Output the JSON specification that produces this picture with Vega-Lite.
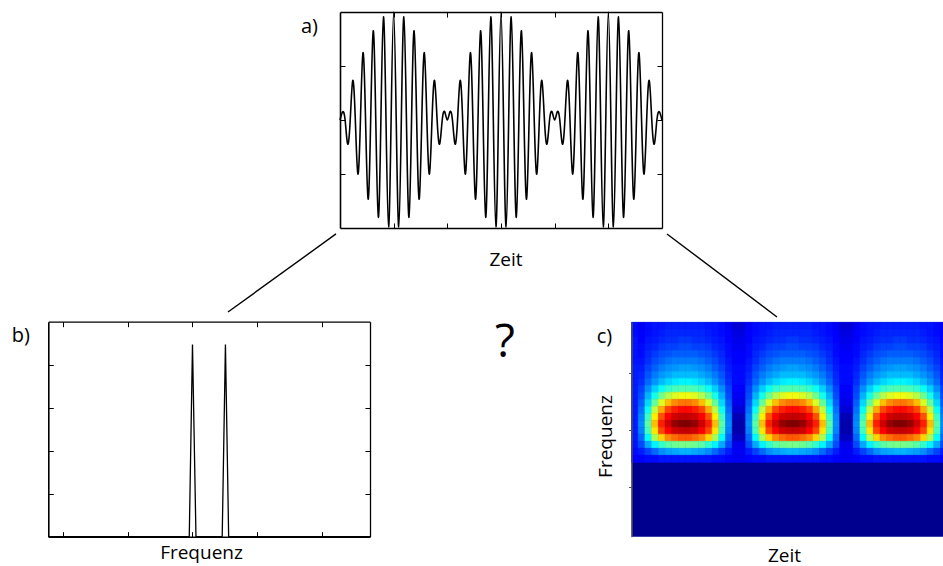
{
 "$schema": "https://vega.github.io/schema/vega-lite/v6.json",
 "width": 943,
 "height": 566,
 "autosize": "none",
 "padding": 0,
 "background": "#ffffff",
 "config": {
  "view": {"stroke": null},
  "font": "Open Sans",
  "axis": {"grid": false, "labels": false, "domainColor": "#000000", "tickColor": "#000000", "domainWidth": 1.3, "tickWidth": 1, "tickSize": -5, "titleFont": "Open Sans", "titleFontSize": 19, "titleFontWeight": "normal", "titleColor": "#000000", "titleBaseline": "alphabetic", "titleAlign": "center"}
 },
 "layer": [
  {
   "layer": [
    {
     "data": {"values": [{}]},
     "mark": {"type": "rect", "color": "#00008f"},
     "encoding": {
      "x": {"datum": 0, "type": "quantitative", "scale": {"domain": [0, 3], "range": [631.5, 954], "nice": false, "zero": false},
            "axis": {"orient": "bottom", "offset": -29.3, "values": [], "domain": false, "title": "Zeit", "titleX": 784, "titleY": 24.3}},
      "x2": {"datum": 3},
      "y": {"datum": 0.133, "type": "quantitative", "scale": {"domain": [0.133, 3.895], "range": [536.7, 322.3], "nice": false, "zero": false},
            "axis": {"orient": "left", "offset": -631.5, "values": [1, 2, 3], "domainColor": "#555555", "tickColor": "#555555", "tickSize": 3, "zindex": 1, "title": "Frequenz", "titleX": -20.3, "titleY": 436, "titleAngle": 270}},
      "y2": {"datum": 3.895}
     }
    },
    {
     "data": {"values": [{}]},
     "mark": {"type": "text", "align": "left", "baseline": "alphabetic", "fontSize": 20, "color": "#000000"},
     "encoding": {
      "x": {"datum": -0.3237, "type": "quantitative", "axis": null},
      "y": {"datum": 3.531, "type": "quantitative", "axis": null},
      "text": {"value": "c)"}
     }
    }
   ],
   "resolve": {"axis": {"x": "independent", "y": "independent"}}
  },
  {
   "data": {"values": [
{"t":0,"f":19,"v":12},{"t":1,"f":19,"v":10},{"t":2,"f":19,"v":12},{"t":3,"f":19,"v":13},{"t":4,"f":19,"v":13},{"t":5,"f":19,"v":14},{"t":6,"f":19,"v":14},{"t":7,"f":19,"v":14},{"t":8,"f":19,"v":14},{"t":9,"f":19,"v":14},{"t":10,"f":19,"v":14},{"t":11,"f":19,"v":13},{"t":12,"f":19,"v":13},{"t":13,"f":19,"v":12},{"t":14,"f":19,"v":10},{"t":15,"f":19,"v":7},{"t":16,"f":19,"v":7},{"t":17,"f":19,"v":10},{"t":18,"f":19,"v":12},{"t":19,"f":19,"v":13},{"t":20,"f":19,"v":13},{"t":21,"f":19,"v":14},{"t":22,"f":19,"v":14},{"t":23,"f":19,"v":14},{"t":24,"f":19,"v":14},{"t":25,"f":19,"v":14},{"t":26,"f":19,"v":14},{"t":27,"f":19,"v":13},{"t":28,"f":19,"v":13},{"t":29,"f":19,"v":12},{"t":30,"f":19,"v":10},{"t":31,"f":19,"v":7},{"t":32,"f":19,"v":7},{"t":33,"f":19,"v":10},{"t":34,"f":19,"v":12},{"t":35,"f":19,"v":13},{"t":36,"f":19,"v":13},{"t":37,"f":19,"v":14},{"t":38,"f":19,"v":14},{"t":39,"f":19,"v":14},{"t":40,"f":19,"v":14},{"t":41,"f":19,"v":14},{"t":42,"f":19,"v":14},{"t":43,"f":19,"v":13},{"t":44,"f":19,"v":13},{"t":45,"f":19,"v":12},{"t":46,"f":19,"v":10},{"t":47,"f":19,"v":7},
{"t":0,"f":18,"v":12},{"t":1,"f":18,"v":11},{"t":2,"f":18,"v":12},{"t":3,"f":18,"v":13},{"t":4,"f":18,"v":14},{"t":5,"f":18,"v":15},{"t":6,"f":18,"v":15},{"t":7,"f":18,"v":15},{"t":8,"f":18,"v":15},{"t":9,"f":18,"v":15},{"t":10,"f":18,"v":15},{"t":11,"f":18,"v":14},{"t":12,"f":18,"v":13},{"t":13,"f":18,"v":12},{"t":14,"f":18,"v":11},{"t":15,"f":18,"v":8},{"t":16,"f":18,"v":8},{"t":17,"f":18,"v":11},{"t":18,"f":18,"v":12},{"t":19,"f":18,"v":13},{"t":20,"f":18,"v":14},{"t":21,"f":18,"v":15},{"t":22,"f":18,"v":15},{"t":23,"f":18,"v":15},{"t":24,"f":18,"v":15},{"t":25,"f":18,"v":15},{"t":26,"f":18,"v":15},{"t":27,"f":18,"v":14},{"t":28,"f":18,"v":13},{"t":29,"f":18,"v":12},{"t":30,"f":18,"v":11},{"t":31,"f":18,"v":8},{"t":32,"f":18,"v":8},{"t":33,"f":18,"v":11},{"t":34,"f":18,"v":12},{"t":35,"f":18,"v":13},{"t":36,"f":18,"v":14},{"t":37,"f":18,"v":15},{"t":38,"f":18,"v":15},{"t":39,"f":18,"v":15},{"t":40,"f":18,"v":15},{"t":41,"f":18,"v":15},{"t":42,"f":18,"v":15},{"t":43,"f":18,"v":14},{"t":44,"f":18,"v":13},{"t":45,"f":18,"v":12},{"t":46,"f":18,"v":11},{"t":47,"f":18,"v":8},
{"t":0,"f":17,"v":13},{"t":1,"f":17,"v":11},{"t":2,"f":17,"v":13},{"t":3,"f":17,"v":14},{"t":4,"f":17,"v":15},{"t":5,"f":17,"v":16},{"t":6,"f":17,"v":16},{"t":7,"f":17,"v":17},{"t":8,"f":17,"v":17},{"t":9,"f":17,"v":16},{"t":10,"f":17,"v":16},{"t":11,"f":17,"v":15},{"t":12,"f":17,"v":14},{"t":13,"f":17,"v":13},{"t":14,"f":17,"v":11},{"t":15,"f":17,"v":9},{"t":16,"f":17,"v":9},{"t":17,"f":17,"v":11},{"t":18,"f":17,"v":13},{"t":19,"f":17,"v":14},{"t":20,"f":17,"v":15},{"t":21,"f":17,"v":16},{"t":22,"f":17,"v":16},{"t":23,"f":17,"v":17},{"t":24,"f":17,"v":17},{"t":25,"f":17,"v":16},{"t":26,"f":17,"v":16},{"t":27,"f":17,"v":15},{"t":28,"f":17,"v":14},{"t":29,"f":17,"v":13},{"t":30,"f":17,"v":11},{"t":31,"f":17,"v":9},{"t":32,"f":17,"v":9},{"t":33,"f":17,"v":11},{"t":34,"f":17,"v":13},{"t":35,"f":17,"v":14},{"t":36,"f":17,"v":15},{"t":37,"f":17,"v":16},{"t":38,"f":17,"v":16},{"t":39,"f":17,"v":17},{"t":40,"f":17,"v":17},{"t":41,"f":17,"v":16},{"t":42,"f":17,"v":16},{"t":43,"f":17,"v":15},{"t":44,"f":17,"v":14},{"t":45,"f":17,"v":13},{"t":46,"f":17,"v":11},{"t":47,"f":17,"v":9},
{"t":0,"f":16,"v":13},{"t":1,"f":16,"v":12},{"t":2,"f":16,"v":14},{"t":3,"f":16,"v":15},{"t":4,"f":16,"v":17},{"t":5,"f":16,"v":18},{"t":6,"f":16,"v":18},{"t":7,"f":16,"v":19},{"t":8,"f":16,"v":19},{"t":9,"f":16,"v":18},{"t":10,"f":16,"v":18},{"t":11,"f":16,"v":17},{"t":12,"f":16,"v":15},{"t":13,"f":16,"v":14},{"t":14,"f":16,"v":12},{"t":15,"f":16,"v":10},{"t":16,"f":16,"v":10},{"t":17,"f":16,"v":12},{"t":18,"f":16,"v":14},{"t":19,"f":16,"v":15},{"t":20,"f":16,"v":17},{"t":21,"f":16,"v":18},{"t":22,"f":16,"v":18},{"t":23,"f":16,"v":19},{"t":24,"f":16,"v":19},{"t":25,"f":16,"v":18},{"t":26,"f":16,"v":18},{"t":27,"f":16,"v":17},{"t":28,"f":16,"v":15},{"t":29,"f":16,"v":14},{"t":30,"f":16,"v":12},{"t":31,"f":16,"v":10},{"t":32,"f":16,"v":10},{"t":33,"f":16,"v":12},{"t":34,"f":16,"v":14},{"t":35,"f":16,"v":15},{"t":36,"f":16,"v":17},{"t":37,"f":16,"v":18},{"t":38,"f":16,"v":18},{"t":39,"f":16,"v":19},{"t":40,"f":16,"v":19},{"t":41,"f":16,"v":18},{"t":42,"f":16,"v":18},{"t":43,"f":16,"v":17},{"t":44,"f":16,"v":15},{"t":45,"f":16,"v":14},{"t":46,"f":16,"v":12},{"t":47,"f":16,"v":10},
{"t":0,"f":15,"v":13},{"t":1,"f":15,"v":12},{"t":2,"f":15,"v":15},{"t":3,"f":15,"v":17},{"t":4,"f":15,"v":19},{"t":5,"f":15,"v":20},{"t":6,"f":15,"v":21},{"t":7,"f":15,"v":21},{"t":8,"f":15,"v":21},{"t":9,"f":15,"v":21},{"t":10,"f":15,"v":20},{"t":11,"f":15,"v":19},{"t":12,"f":15,"v":17},{"t":13,"f":15,"v":15},{"t":14,"f":15,"v":12},{"t":15,"f":15,"v":11},{"t":16,"f":15,"v":11},{"t":17,"f":15,"v":12},{"t":18,"f":15,"v":15},{"t":19,"f":15,"v":17},{"t":20,"f":15,"v":19},{"t":21,"f":15,"v":20},{"t":22,"f":15,"v":21},{"t":23,"f":15,"v":21},{"t":24,"f":15,"v":21},{"t":25,"f":15,"v":21},{"t":26,"f":15,"v":20},{"t":27,"f":15,"v":19},{"t":28,"f":15,"v":17},{"t":29,"f":15,"v":15},{"t":30,"f":15,"v":12},{"t":31,"f":15,"v":11},{"t":32,"f":15,"v":11},{"t":33,"f":15,"v":12},{"t":34,"f":15,"v":15},{"t":35,"f":15,"v":17},{"t":36,"f":15,"v":19},{"t":37,"f":15,"v":20},{"t":38,"f":15,"v":21},{"t":39,"f":15,"v":21},{"t":40,"f":15,"v":21},{"t":41,"f":15,"v":21},{"t":42,"f":15,"v":20},{"t":43,"f":15,"v":19},{"t":44,"f":15,"v":17},{"t":45,"f":15,"v":15},{"t":46,"f":15,"v":12},{"t":47,"f":15,"v":11},
{"t":0,"f":14,"v":13},{"t":1,"f":14,"v":13},{"t":2,"f":14,"v":16},{"t":3,"f":14,"v":19},{"t":4,"f":14,"v":21},{"t":5,"f":14,"v":23},{"t":6,"f":14,"v":24},{"t":7,"f":14,"v":24},{"t":8,"f":14,"v":24},{"t":9,"f":14,"v":24},{"t":10,"f":14,"v":23},{"t":11,"f":14,"v":21},{"t":12,"f":14,"v":19},{"t":13,"f":14,"v":16},{"t":14,"f":14,"v":13},{"t":15,"f":14,"v":11},{"t":16,"f":14,"v":11},{"t":17,"f":14,"v":13},{"t":18,"f":14,"v":16},{"t":19,"f":14,"v":19},{"t":20,"f":14,"v":21},{"t":21,"f":14,"v":23},{"t":22,"f":14,"v":24},{"t":23,"f":14,"v":24},{"t":24,"f":14,"v":24},{"t":25,"f":14,"v":24},{"t":26,"f":14,"v":23},{"t":27,"f":14,"v":21},{"t":28,"f":14,"v":19},{"t":29,"f":14,"v":16},{"t":30,"f":14,"v":13},{"t":31,"f":14,"v":11},{"t":32,"f":14,"v":11},{"t":33,"f":14,"v":13},{"t":34,"f":14,"v":16},{"t":35,"f":14,"v":19},{"t":36,"f":14,"v":21},{"t":37,"f":14,"v":23},{"t":38,"f":14,"v":24},{"t":39,"f":14,"v":24},{"t":40,"f":14,"v":24},{"t":41,"f":14,"v":24},{"t":42,"f":14,"v":23},{"t":43,"f":14,"v":21},{"t":44,"f":14,"v":19},{"t":45,"f":14,"v":16},{"t":46,"f":14,"v":13},{"t":47,"f":14,"v":11},
{"t":0,"f":13,"v":14},{"t":1,"f":13,"v":14},{"t":2,"f":13,"v":18},{"t":3,"f":13,"v":21},{"t":4,"f":13,"v":24},{"t":5,"f":13,"v":26},{"t":6,"f":13,"v":27},{"t":7,"f":13,"v":28},{"t":8,"f":13,"v":28},{"t":9,"f":13,"v":27},{"t":10,"f":13,"v":26},{"t":11,"f":13,"v":24},{"t":12,"f":13,"v":21},{"t":13,"f":13,"v":18},{"t":14,"f":13,"v":14},{"t":15,"f":13,"v":12},{"t":16,"f":13,"v":12},{"t":17,"f":13,"v":14},{"t":18,"f":13,"v":18},{"t":19,"f":13,"v":21},{"t":20,"f":13,"v":24},{"t":21,"f":13,"v":26},{"t":22,"f":13,"v":27},{"t":23,"f":13,"v":28},{"t":24,"f":13,"v":28},{"t":25,"f":13,"v":27},{"t":26,"f":13,"v":26},{"t":27,"f":13,"v":24},{"t":28,"f":13,"v":21},{"t":29,"f":13,"v":18},{"t":30,"f":13,"v":14},{"t":31,"f":13,"v":12},{"t":32,"f":13,"v":12},{"t":33,"f":13,"v":14},{"t":34,"f":13,"v":18},{"t":35,"f":13,"v":21},{"t":36,"f":13,"v":24},{"t":37,"f":13,"v":26},{"t":38,"f":13,"v":27},{"t":39,"f":13,"v":28},{"t":40,"f":13,"v":28},{"t":41,"f":13,"v":27},{"t":42,"f":13,"v":26},{"t":43,"f":13,"v":24},{"t":44,"f":13,"v":21},{"t":45,"f":13,"v":18},{"t":46,"f":13,"v":14},{"t":47,"f":13,"v":12},
{"t":0,"f":12,"v":14},{"t":1,"f":12,"v":15},{"t":2,"f":12,"v":20},{"t":3,"f":12,"v":24},{"t":4,"f":12,"v":27},{"t":5,"f":12,"v":29},{"t":6,"f":12,"v":31},{"t":7,"f":12,"v":31},{"t":8,"f":12,"v":31},{"t":9,"f":12,"v":31},{"t":10,"f":12,"v":29},{"t":11,"f":12,"v":27},{"t":12,"f":12,"v":24},{"t":13,"f":12,"v":20},{"t":14,"f":12,"v":15},{"t":15,"f":12,"v":12},{"t":16,"f":12,"v":12},{"t":17,"f":12,"v":15},{"t":18,"f":12,"v":20},{"t":19,"f":12,"v":24},{"t":20,"f":12,"v":27},{"t":21,"f":12,"v":29},{"t":22,"f":12,"v":31},{"t":23,"f":12,"v":31},{"t":24,"f":12,"v":31},{"t":25,"f":12,"v":31},{"t":26,"f":12,"v":29},{"t":27,"f":12,"v":27},{"t":28,"f":12,"v":24},{"t":29,"f":12,"v":20},{"t":30,"f":12,"v":15},{"t":31,"f":12,"v":12},{"t":32,"f":12,"v":12},{"t":33,"f":12,"v":15},{"t":34,"f":12,"v":20},{"t":35,"f":12,"v":24},{"t":36,"f":12,"v":27},{"t":37,"f":12,"v":29},{"t":38,"f":12,"v":31},{"t":39,"f":12,"v":31},{"t":40,"f":12,"v":31},{"t":41,"f":12,"v":31},{"t":42,"f":12,"v":29},{"t":43,"f":12,"v":27},{"t":44,"f":12,"v":24},{"t":45,"f":12,"v":20},{"t":46,"f":12,"v":15},{"t":47,"f":12,"v":12},
{"t":0,"f":11,"v":14},{"t":1,"f":11,"v":16},{"t":2,"f":11,"v":22},{"t":3,"f":11,"v":27},{"t":4,"f":11,"v":31},{"t":5,"f":11,"v":34},{"t":6,"f":11,"v":36},{"t":7,"f":11,"v":37},{"t":8,"f":11,"v":37},{"t":9,"f":11,"v":36},{"t":10,"f":11,"v":34},{"t":11,"f":11,"v":31},{"t":12,"f":11,"v":27},{"t":13,"f":11,"v":22},{"t":14,"f":11,"v":16},{"t":15,"f":11,"v":12},{"t":16,"f":11,"v":12},{"t":17,"f":11,"v":16},{"t":18,"f":11,"v":22},{"t":19,"f":11,"v":27},{"t":20,"f":11,"v":31},{"t":21,"f":11,"v":34},{"t":22,"f":11,"v":36},{"t":23,"f":11,"v":37},{"t":24,"f":11,"v":37},{"t":25,"f":11,"v":36},{"t":26,"f":11,"v":34},{"t":27,"f":11,"v":31},{"t":28,"f":11,"v":27},{"t":29,"f":11,"v":22},{"t":30,"f":11,"v":16},{"t":31,"f":11,"v":12},{"t":32,"f":11,"v":12},{"t":33,"f":11,"v":16},{"t":34,"f":11,"v":22},{"t":35,"f":11,"v":27},{"t":36,"f":11,"v":31},{"t":37,"f":11,"v":34},{"t":38,"f":11,"v":36},{"t":39,"f":11,"v":37},{"t":40,"f":11,"v":37},{"t":41,"f":11,"v":36},{"t":42,"f":11,"v":34},{"t":43,"f":11,"v":31},{"t":44,"f":11,"v":27},{"t":45,"f":11,"v":22},{"t":46,"f":11,"v":16},{"t":47,"f":11,"v":12},
{"t":0,"f":10,"v":14},{"t":1,"f":10,"v":18},{"t":2,"f":10,"v":26},{"t":3,"f":10,"v":33},{"t":4,"f":10,"v":39},{"t":5,"f":10,"v":43},{"t":6,"f":10,"v":45},{"t":7,"f":10,"v":46},{"t":8,"f":10,"v":46},{"t":9,"f":10,"v":45},{"t":10,"f":10,"v":43},{"t":11,"f":10,"v":39},{"t":12,"f":10,"v":33},{"t":13,"f":10,"v":26},{"t":14,"f":10,"v":18},{"t":15,"f":10,"v":11},{"t":16,"f":10,"v":11},{"t":17,"f":10,"v":18},{"t":18,"f":10,"v":26},{"t":19,"f":10,"v":33},{"t":20,"f":10,"v":39},{"t":21,"f":10,"v":43},{"t":22,"f":10,"v":45},{"t":23,"f":10,"v":46},{"t":24,"f":10,"v":46},{"t":25,"f":10,"v":45},{"t":26,"f":10,"v":43},{"t":27,"f":10,"v":39},{"t":28,"f":10,"v":33},{"t":29,"f":10,"v":26},{"t":30,"f":10,"v":18},{"t":31,"f":10,"v":11},{"t":32,"f":10,"v":11},{"t":33,"f":10,"v":18},{"t":34,"f":10,"v":26},{"t":35,"f":10,"v":33},{"t":36,"f":10,"v":39},{"t":37,"f":10,"v":43},{"t":38,"f":10,"v":45},{"t":39,"f":10,"v":46},{"t":40,"f":10,"v":46},{"t":41,"f":10,"v":45},{"t":42,"f":10,"v":43},{"t":43,"f":10,"v":39},{"t":44,"f":10,"v":33},{"t":45,"f":10,"v":26},{"t":46,"f":10,"v":18},{"t":47,"f":10,"v":11},
{"t":0,"f":9,"v":14},{"t":1,"f":9,"v":19},{"t":2,"f":9,"v":30},{"t":3,"f":9,"v":40},{"t":4,"f":9,"v":49},{"t":5,"f":9,"v":56},{"t":6,"f":9,"v":60},{"t":7,"f":9,"v":62},{"t":8,"f":9,"v":62},{"t":9,"f":9,"v":60},{"t":10,"f":9,"v":56},{"t":11,"f":9,"v":49},{"t":12,"f":9,"v":40},{"t":13,"f":9,"v":30},{"t":14,"f":9,"v":19},{"t":15,"f":9,"v":10},{"t":16,"f":9,"v":10},{"t":17,"f":9,"v":19},{"t":18,"f":9,"v":30},{"t":19,"f":9,"v":40},{"t":20,"f":9,"v":49},{"t":21,"f":9,"v":56},{"t":22,"f":9,"v":60},{"t":23,"f":9,"v":62},{"t":24,"f":9,"v":62},{"t":25,"f":9,"v":60},{"t":26,"f":9,"v":56},{"t":27,"f":9,"v":49},{"t":28,"f":9,"v":40},{"t":29,"f":9,"v":30},{"t":30,"f":9,"v":19},{"t":31,"f":9,"v":10},{"t":32,"f":9,"v":10},{"t":33,"f":9,"v":19},{"t":34,"f":9,"v":30},{"t":35,"f":9,"v":40},{"t":36,"f":9,"v":49},{"t":37,"f":9,"v":56},{"t":38,"f":9,"v":60},{"t":39,"f":9,"v":62},{"t":40,"f":9,"v":62},{"t":41,"f":9,"v":60},{"t":42,"f":9,"v":56},{"t":43,"f":9,"v":49},{"t":44,"f":9,"v":40},{"t":45,"f":9,"v":30},{"t":46,"f":9,"v":19},{"t":47,"f":9,"v":10},
{"t":0,"f":8,"v":14},{"t":1,"f":8,"v":21},{"t":2,"f":8,"v":34},{"t":3,"f":8,"v":48},{"t":4,"f":8,"v":60},{"t":5,"f":8,"v":70},{"t":6,"f":8,"v":75},{"t":7,"f":8,"v":77},{"t":8,"f":8,"v":77},{"t":9,"f":8,"v":75},{"t":10,"f":8,"v":70},{"t":11,"f":8,"v":60},{"t":12,"f":8,"v":48},{"t":13,"f":8,"v":34},{"t":14,"f":8,"v":21},{"t":15,"f":8,"v":9},{"t":16,"f":8,"v":9},{"t":17,"f":8,"v":21},{"t":18,"f":8,"v":34},{"t":19,"f":8,"v":48},{"t":20,"f":8,"v":60},{"t":21,"f":8,"v":70},{"t":22,"f":8,"v":75},{"t":23,"f":8,"v":77},{"t":24,"f":8,"v":77},{"t":25,"f":8,"v":75},{"t":26,"f":8,"v":70},{"t":27,"f":8,"v":60},{"t":28,"f":8,"v":48},{"t":29,"f":8,"v":34},{"t":30,"f":8,"v":21},{"t":31,"f":8,"v":9},{"t":32,"f":8,"v":9},{"t":33,"f":8,"v":21},{"t":34,"f":8,"v":34},{"t":35,"f":8,"v":48},{"t":36,"f":8,"v":60},{"t":37,"f":8,"v":70},{"t":38,"f":8,"v":75},{"t":39,"f":8,"v":77},{"t":40,"f":8,"v":77},{"t":41,"f":8,"v":75},{"t":42,"f":8,"v":70},{"t":43,"f":8,"v":60},{"t":44,"f":8,"v":48},{"t":45,"f":8,"v":34},{"t":46,"f":8,"v":21},{"t":47,"f":8,"v":9},
{"t":0,"f":7,"v":14},{"t":1,"f":7,"v":23},{"t":2,"f":7,"v":39},{"t":3,"f":7,"v":57},{"t":4,"f":7,"v":72},{"t":5,"f":7,"v":82},{"t":6,"f":7,"v":86},{"t":7,"f":7,"v":88},{"t":8,"f":7,"v":88},{"t":9,"f":7,"v":86},{"t":10,"f":7,"v":82},{"t":11,"f":7,"v":72},{"t":12,"f":7,"v":57},{"t":13,"f":7,"v":39},{"t":14,"f":7,"v":23},{"t":15,"f":7,"v":7},{"t":16,"f":7,"v":7},{"t":17,"f":7,"v":23},{"t":18,"f":7,"v":39},{"t":19,"f":7,"v":57},{"t":20,"f":7,"v":72},{"t":21,"f":7,"v":82},{"t":22,"f":7,"v":86},{"t":23,"f":7,"v":88},{"t":24,"f":7,"v":88},{"t":25,"f":7,"v":86},{"t":26,"f":7,"v":82},{"t":27,"f":7,"v":72},{"t":28,"f":7,"v":57},{"t":29,"f":7,"v":39},{"t":30,"f":7,"v":23},{"t":31,"f":7,"v":7},{"t":32,"f":7,"v":7},{"t":33,"f":7,"v":23},{"t":34,"f":7,"v":39},{"t":35,"f":7,"v":57},{"t":36,"f":7,"v":72},{"t":37,"f":7,"v":82},{"t":38,"f":7,"v":86},{"t":39,"f":7,"v":88},{"t":40,"f":7,"v":88},{"t":41,"f":7,"v":86},{"t":42,"f":7,"v":82},{"t":43,"f":7,"v":72},{"t":44,"f":7,"v":57},{"t":45,"f":7,"v":39},{"t":46,"f":7,"v":23},{"t":47,"f":7,"v":7},
{"t":0,"f":6,"v":14},{"t":1,"f":6,"v":25},{"t":2,"f":6,"v":44},{"t":3,"f":6,"v":65},{"t":4,"f":6,"v":81},{"t":5,"f":6,"v":89},{"t":6,"f":6,"v":93},{"t":7,"f":6,"v":94},{"t":8,"f":6,"v":94},{"t":9,"f":6,"v":93},{"t":10,"f":6,"v":89},{"t":11,"f":6,"v":81},{"t":12,"f":6,"v":65},{"t":13,"f":6,"v":44},{"t":14,"f":6,"v":25},{"t":15,"f":6,"v":4},{"t":16,"f":6,"v":4},{"t":17,"f":6,"v":25},{"t":18,"f":6,"v":44},{"t":19,"f":6,"v":65},{"t":20,"f":6,"v":81},{"t":21,"f":6,"v":89},{"t":22,"f":6,"v":93},{"t":23,"f":6,"v":94},{"t":24,"f":6,"v":94},{"t":25,"f":6,"v":93},{"t":26,"f":6,"v":89},{"t":27,"f":6,"v":81},{"t":28,"f":6,"v":65},{"t":29,"f":6,"v":44},{"t":30,"f":6,"v":25},{"t":31,"f":6,"v":4},{"t":32,"f":6,"v":4},{"t":33,"f":6,"v":25},{"t":34,"f":6,"v":44},{"t":35,"f":6,"v":65},{"t":36,"f":6,"v":81},{"t":37,"f":6,"v":89},{"t":38,"f":6,"v":93},{"t":39,"f":6,"v":94},{"t":40,"f":6,"v":94},{"t":41,"f":6,"v":93},{"t":42,"f":6,"v":89},{"t":43,"f":6,"v":81},{"t":44,"f":6,"v":65},{"t":45,"f":6,"v":44},{"t":46,"f":6,"v":25},{"t":47,"f":6,"v":4},
{"t":0,"f":5,"v":14},{"t":1,"f":5,"v":26},{"t":2,"f":5,"v":47},{"t":3,"f":5,"v":70},{"t":4,"f":5,"v":86},{"t":5,"f":5,"v":93},{"t":6,"f":5,"v":98},{"t":7,"f":5,"v":100},{"t":8,"f":5,"v":100},{"t":9,"f":5,"v":98},{"t":10,"f":5,"v":93},{"t":11,"f":5,"v":86},{"t":12,"f":5,"v":70},{"t":13,"f":5,"v":47},{"t":14,"f":5,"v":26},{"t":15,"f":5,"v":3},{"t":16,"f":5,"v":3},{"t":17,"f":5,"v":26},{"t":18,"f":5,"v":47},{"t":19,"f":5,"v":70},{"t":20,"f":5,"v":86},{"t":21,"f":5,"v":93},{"t":22,"f":5,"v":98},{"t":23,"f":5,"v":100},{"t":24,"f":5,"v":100},{"t":25,"f":5,"v":98},{"t":26,"f":5,"v":93},{"t":27,"f":5,"v":86},{"t":28,"f":5,"v":70},{"t":29,"f":5,"v":47},{"t":30,"f":5,"v":26},{"t":31,"f":5,"v":3},{"t":32,"f":5,"v":3},{"t":33,"f":5,"v":26},{"t":34,"f":5,"v":47},{"t":35,"f":5,"v":70},{"t":36,"f":5,"v":86},{"t":37,"f":5,"v":93},{"t":38,"f":5,"v":98},{"t":39,"f":5,"v":100},{"t":40,"f":5,"v":100},{"t":41,"f":5,"v":98},{"t":42,"f":5,"v":93},{"t":43,"f":5,"v":86},{"t":44,"f":5,"v":70},{"t":45,"f":5,"v":47},{"t":46,"f":5,"v":26},{"t":47,"f":5,"v":3},
{"t":0,"f":4,"v":14},{"t":1,"f":4,"v":25},{"t":2,"f":4,"v":45},{"t":3,"f":4,"v":66},{"t":4,"f":4,"v":82},{"t":5,"f":4,"v":89},{"t":6,"f":4,"v":93},{"t":7,"f":4,"v":94},{"t":8,"f":4,"v":94},{"t":9,"f":4,"v":93},{"t":10,"f":4,"v":89},{"t":11,"f":4,"v":82},{"t":12,"f":4,"v":66},{"t":13,"f":4,"v":45},{"t":14,"f":4,"v":25},{"t":15,"f":4,"v":3},{"t":16,"f":4,"v":3},{"t":17,"f":4,"v":25},{"t":18,"f":4,"v":45},{"t":19,"f":4,"v":66},{"t":20,"f":4,"v":82},{"t":21,"f":4,"v":89},{"t":22,"f":4,"v":93},{"t":23,"f":4,"v":94},{"t":24,"f":4,"v":94},{"t":25,"f":4,"v":93},{"t":26,"f":4,"v":89},{"t":27,"f":4,"v":82},{"t":28,"f":4,"v":66},{"t":29,"f":4,"v":45},{"t":30,"f":4,"v":25},{"t":31,"f":4,"v":3},{"t":32,"f":4,"v":3},{"t":33,"f":4,"v":25},{"t":34,"f":4,"v":45},{"t":35,"f":4,"v":66},{"t":36,"f":4,"v":82},{"t":37,"f":4,"v":89},{"t":38,"f":4,"v":93},{"t":39,"f":4,"v":94},{"t":40,"f":4,"v":94},{"t":41,"f":4,"v":93},{"t":42,"f":4,"v":89},{"t":43,"f":4,"v":82},{"t":44,"f":4,"v":66},{"t":45,"f":4,"v":45},{"t":46,"f":4,"v":25},{"t":47,"f":4,"v":3},
{"t":0,"f":3,"v":14},{"t":1,"f":3,"v":22},{"t":2,"f":3,"v":38},{"t":3,"f":3,"v":55},{"t":4,"f":3,"v":68},{"t":5,"f":3,"v":75},{"t":6,"f":3,"v":78},{"t":7,"f":3,"v":80},{"t":8,"f":3,"v":80},{"t":9,"f":3,"v":78},{"t":10,"f":3,"v":75},{"t":11,"f":3,"v":68},{"t":12,"f":3,"v":55},{"t":13,"f":3,"v":38},{"t":14,"f":3,"v":22},{"t":15,"f":3,"v":5},{"t":16,"f":3,"v":5},{"t":17,"f":3,"v":22},{"t":18,"f":3,"v":38},{"t":19,"f":3,"v":55},{"t":20,"f":3,"v":68},{"t":21,"f":3,"v":75},{"t":22,"f":3,"v":78},{"t":23,"f":3,"v":80},{"t":24,"f":3,"v":80},{"t":25,"f":3,"v":78},{"t":26,"f":3,"v":75},{"t":27,"f":3,"v":68},{"t":28,"f":3,"v":55},{"t":29,"f":3,"v":38},{"t":30,"f":3,"v":22},{"t":31,"f":3,"v":5},{"t":32,"f":3,"v":5},{"t":33,"f":3,"v":22},{"t":34,"f":3,"v":38},{"t":35,"f":3,"v":55},{"t":36,"f":3,"v":68},{"t":37,"f":3,"v":75},{"t":38,"f":3,"v":78},{"t":39,"f":3,"v":80},{"t":40,"f":3,"v":80},{"t":41,"f":3,"v":78},{"t":42,"f":3,"v":75},{"t":43,"f":3,"v":68},{"t":44,"f":3,"v":55},{"t":45,"f":3,"v":38},{"t":46,"f":3,"v":22},{"t":47,"f":3,"v":5},
{"t":0,"f":2,"v":13},{"t":1,"f":2,"v":19},{"t":2,"f":2,"v":29},{"t":3,"f":2,"v":37},{"t":4,"f":2,"v":43},{"t":5,"f":2,"v":47},{"t":6,"f":2,"v":49},{"t":7,"f":2,"v":50},{"t":8,"f":2,"v":50},{"t":9,"f":2,"v":49},{"t":10,"f":2,"v":47},{"t":11,"f":2,"v":43},{"t":12,"f":2,"v":37},{"t":13,"f":2,"v":29},{"t":14,"f":2,"v":19},{"t":15,"f":2,"v":9},{"t":16,"f":2,"v":9},{"t":17,"f":2,"v":19},{"t":18,"f":2,"v":29},{"t":19,"f":2,"v":37},{"t":20,"f":2,"v":43},{"t":21,"f":2,"v":47},{"t":22,"f":2,"v":49},{"t":23,"f":2,"v":50},{"t":24,"f":2,"v":50},{"t":25,"f":2,"v":49},{"t":26,"f":2,"v":47},{"t":27,"f":2,"v":43},{"t":28,"f":2,"v":37},{"t":29,"f":2,"v":29},{"t":30,"f":2,"v":19},{"t":31,"f":2,"v":9},{"t":32,"f":2,"v":9},{"t":33,"f":2,"v":19},{"t":34,"f":2,"v":29},{"t":35,"f":2,"v":37},{"t":36,"f":2,"v":43},{"t":37,"f":2,"v":47},{"t":38,"f":2,"v":49},{"t":39,"f":2,"v":50},{"t":40,"f":2,"v":50},{"t":41,"f":2,"v":49},{"t":42,"f":2,"v":47},{"t":43,"f":2,"v":43},{"t":44,"f":2,"v":37},{"t":45,"f":2,"v":29},{"t":46,"f":2,"v":19},{"t":47,"f":2,"v":9},
{"t":0,"f":1,"v":12},{"t":1,"f":1,"v":14},{"t":2,"f":1,"v":18},{"t":3,"f":1,"v":22},{"t":4,"f":1,"v":26},{"t":5,"f":1,"v":28},{"t":6,"f":1,"v":29},{"t":7,"f":1,"v":30},{"t":8,"f":1,"v":30},{"t":9,"f":1,"v":29},{"t":10,"f":1,"v":28},{"t":11,"f":1,"v":26},{"t":12,"f":1,"v":22},{"t":13,"f":1,"v":18},{"t":14,"f":1,"v":14},{"t":15,"f":1,"v":10},{"t":16,"f":1,"v":10},{"t":17,"f":1,"v":14},{"t":18,"f":1,"v":18},{"t":19,"f":1,"v":22},{"t":20,"f":1,"v":26},{"t":21,"f":1,"v":28},{"t":22,"f":1,"v":29},{"t":23,"f":1,"v":30},{"t":24,"f":1,"v":30},{"t":25,"f":1,"v":29},{"t":26,"f":1,"v":28},{"t":27,"f":1,"v":26},{"t":28,"f":1,"v":22},{"t":29,"f":1,"v":18},{"t":30,"f":1,"v":14},{"t":31,"f":1,"v":10},{"t":32,"f":1,"v":10},{"t":33,"f":1,"v":14},{"t":34,"f":1,"v":18},{"t":35,"f":1,"v":22},{"t":36,"f":1,"v":26},{"t":37,"f":1,"v":28},{"t":38,"f":1,"v":29},{"t":39,"f":1,"v":30},{"t":40,"f":1,"v":30},{"t":41,"f":1,"v":29},{"t":42,"f":1,"v":28},{"t":43,"f":1,"v":26},{"t":44,"f":1,"v":22},{"t":45,"f":1,"v":18},{"t":46,"f":1,"v":14},{"t":47,"f":1,"v":10},
{"t":0,"f":0,"v":11},{"t":1,"f":0,"v":11},{"t":2,"f":0,"v":12},{"t":3,"f":0,"v":12},{"t":4,"f":0,"v":13},{"t":5,"f":0,"v":13},{"t":6,"f":0,"v":13},{"t":7,"f":0,"v":13},{"t":8,"f":0,"v":13},{"t":9,"f":0,"v":13},{"t":10,"f":0,"v":13},{"t":11,"f":0,"v":13},{"t":12,"f":0,"v":12},{"t":13,"f":0,"v":12},{"t":14,"f":0,"v":11},{"t":15,"f":0,"v":10},{"t":16,"f":0,"v":10},{"t":17,"f":0,"v":11},{"t":18,"f":0,"v":12},{"t":19,"f":0,"v":12},{"t":20,"f":0,"v":13},{"t":21,"f":0,"v":13},{"t":22,"f":0,"v":13},{"t":23,"f":0,"v":13},{"t":24,"f":0,"v":13},{"t":25,"f":0,"v":13},{"t":26,"f":0,"v":13},{"t":27,"f":0,"v":13},{"t":28,"f":0,"v":12},{"t":29,"f":0,"v":12},{"t":30,"f":0,"v":11},{"t":31,"f":0,"v":10},{"t":32,"f":0,"v":10},{"t":33,"f":0,"v":11},{"t":34,"f":0,"v":12},{"t":35,"f":0,"v":12},{"t":36,"f":0,"v":13},{"t":37,"f":0,"v":13},{"t":38,"f":0,"v":13},{"t":39,"f":0,"v":13},{"t":40,"f":0,"v":13},{"t":41,"f":0,"v":13},{"t":42,"f":0,"v":13},{"t":43,"f":0,"v":13},{"t":44,"f":0,"v":12},{"t":45,"f":0,"v":12},{"t":46,"f":0,"v":11},{"t":47,"f":0,"v":10}
   ]},
   "mark": {"type": "rect", "strokeWidth": 0.6},
   "encoding": {
    "x": {"field": "t", "type": "ordinal", "scale": {"range": [631.5, 954], "paddingInner": 0, "paddingOuter": 0}, "axis": null},
    "y": {"field": "f", "type": "ordinal", "sort": "descending", "scale": {"range": [322.3, 462.3], "paddingInner": 0, "paddingOuter": 0}, "axis": null},
    "color": {"field": "v", "type": "quantitative", "scale": {"domain": [0, 11.1, 38.1, 63.5, 88.9, 100], "range": ["#00008f", "#0000ff", "#00ffff", "#ffff00", "#ff0000", "#800000"], "interpolate": "rgb"}, "legend": null},
    "stroke": {"field": "v", "type": "quantitative", "scale": {"domain": [0, 11.1, 38.1, 63.5, 88.9, 100], "range": ["#00008f", "#0000ff", "#00ffff", "#ffff00", "#ff0000", "#800000"], "interpolate": "rgb"}, "legend": null}
   }
  },
  {
   "data": {"values": [
{"t":0,"s":0},{"t":1,"s":0.15},{"t":2,"s":0},{"t":3,"s":-0.445},{"t":4,"s":0},{"t":5,"s":0.731},{"t":6,"s":0},{"t":7,"s":-1},{"t":8,"s":0},{"t":9,"s":1.247},{"t":10,"s":0},{"t":11,"s":-1.466},{"t":12,"s":0},{"t":13,"s":1.653},{"t":14,"s":0},{"t":15,"s":-1.802},{"t":16,"s":0},{"t":17,"s":1.911},{"t":18,"s":0},{"t":19,"s":-1.978},{"t":20,"s":0},{"t":21,"s":2},{"t":22,"s":0},{"t":23,"s":-1.978},{"t":24,"s":0},{"t":25,"s":1.911},{"t":26,"s":0},{"t":27,"s":-1.802},{"t":28,"s":0},{"t":29,"s":1.653},{"t":30,"s":0},{"t":31,"s":-1.466},{"t":32,"s":0},{"t":33,"s":1.247},{"t":34,"s":0},{"t":35,"s":-1},{"t":36,"s":0},{"t":37,"s":0.731},{"t":38,"s":0},{"t":39,"s":-0.445},{"t":40,"s":0},{"t":41,"s":0.15},{"t":42,"s":0},
{"t":43,"s":0.15},{"t":44,"s":0},{"t":45,"s":-0.445},{"t":46,"s":0},{"t":47,"s":0.731},{"t":48,"s":0},{"t":49,"s":-1},{"t":50,"s":0},{"t":51,"s":1.247},{"t":52,"s":0},{"t":53,"s":-1.466},{"t":54,"s":0},{"t":55,"s":1.653},{"t":56,"s":0},{"t":57,"s":-1.802},{"t":58,"s":0},{"t":59,"s":1.911},{"t":60,"s":0},{"t":61,"s":-1.978},{"t":62,"s":0},{"t":63,"s":2},{"t":64,"s":0},{"t":65,"s":-1.978},{"t":66,"s":0},{"t":67,"s":1.911},{"t":68,"s":0},{"t":69,"s":-1.802},{"t":70,"s":0},{"t":71,"s":1.653},{"t":72,"s":0},{"t":73,"s":-1.466},{"t":74,"s":0},{"t":75,"s":1.247},{"t":76,"s":0},{"t":77,"s":-1},{"t":78,"s":0},{"t":79,"s":0.731},{"t":80,"s":0},{"t":81,"s":-0.445},{"t":82,"s":0},{"t":83,"s":0.15},{"t":84,"s":0},
{"t":85,"s":0.15},{"t":86,"s":0},{"t":87,"s":-0.445},{"t":88,"s":0},{"t":89,"s":0.731},{"t":90,"s":0},{"t":91,"s":-1},{"t":92,"s":0},{"t":93,"s":1.247},{"t":94,"s":0},{"t":95,"s":-1.466},{"t":96,"s":0},{"t":97,"s":1.653},{"t":98,"s":0},{"t":99,"s":-1.802},{"t":100,"s":0},{"t":101,"s":1.911},{"t":102,"s":0},{"t":103,"s":-1.978},{"t":104,"s":0},{"t":105,"s":2},{"t":106,"s":0},{"t":107,"s":-1.978},{"t":108,"s":0},{"t":109,"s":1.911},{"t":110,"s":0},{"t":111,"s":-1.802},{"t":112,"s":0},{"t":113,"s":1.653},{"t":114,"s":0},{"t":115,"s":-1.466},{"t":116,"s":0},{"t":117,"s":1.247},{"t":118,"s":0},{"t":119,"s":-1},{"t":120,"s":0},{"t":121,"s":0.731},{"t":122,"s":0},{"t":123,"s":-0.445},{"t":124,"s":0},{"t":125,"s":0.15},{"t":126,"s":0}
   ]},
   "layer": [
    {
     "mark": {"type": "line", "interpolate": "natural", "color": "#000000", "strokeWidth": 1.6},
     "encoding": {
      "x": {"field": "t", "type": "quantitative", "scale": {"domain": [0, 126], "range": [340, 662], "nice": false, "zero": false},
            "axis": {"orient": "bottom", "offset": -338, "values": [21, 42, 63, 84, 105], "domainWidth": 1.6, "title": "Zeit", "titleX": 505.5, "titleY": 37}},
      "y": {"field": "s", "type": "quantitative", "scale": {"domain": [-2, 2], "range": [228, 12], "nice": false, "zero": false},
            "axis": {"orient": "left", "offset": -340, "values": [-1, 0, 1], "domainWidth": 1.6, "title": null}}
     }
    },
    {
     "mark": {"type": "point", "opacity": 0},
     "encoding": {
      "x": {"field": "t", "type": "quantitative", "axis": {"orient": "top", "offset": -12, "values": [21, 42, 63, 84, 105], "title": null}},
      "y": {"field": "s", "type": "quantitative", "axis": {"orient": "right", "offset": -281, "values": [-1, 0, 1], "title": null}}
     }
    },
    {
     "data": {"values": [{}]},
     "mark": {"type": "rule", "color": "#000000", "strokeWidth": 1.4},
     "encoding": {
      "x": {"datum": -1.57, "type": "quantitative", "axis": null},
      "x2": {"datum": -43.83},
      "y": {"datum": -2.11, "type": "quantitative", "axis": null},
      "y2": {"datum": -3.556}
     }
    },
    {
     "data": {"values": [{}]},
     "mark": {"type": "rule", "color": "#000000", "strokeWidth": 1.4},
     "encoding": {
      "x": {"datum": 127.95, "type": "quantitative", "axis": null},
      "x2": {"datum": 170.99},
      "y": {"datum": -2.11, "type": "quantitative", "axis": null},
      "y2": {"datum": -3.648}
     }
    },
    {
     "data": {"values": [{}]},
     "mark": {"type": "text", "align": "left", "baseline": "alphabetic", "fontSize": 20, "color": "#000000"},
     "encoding": {
      "x": {"datum": -15.26, "type": "quantitative", "axis": null},
      "y": {"datum": 1.611, "type": "quantitative", "axis": null},
      "text": {"value": "a)"}
     }
    },
    {
     "data": {"values": [{}]},
     "mark": {"type": "text", "align": "center", "baseline": "alphabetic", "fontSize": 46, "color": "#000000"},
     "encoding": {
      "x": {"datum": 64.57, "type": "quantitative", "axis": null},
      "y": {"datum": -4.389, "type": "quantitative", "axis": null},
      "text": {"value": "?"}
     }
    }
   ],
   "resolve": {"axis": {"x": "independent", "y": "independent"}}
  },
  {
   "data": {"values": [
{"f":7.68,"a":0},{"f":29.5,"a":0},{"f":30,"a":4.47},{"f":30.54,"a":0},{"f":34.6,"a":0},{"f":35.1,"a":4.47},{"f":35.6,"a":0},{"f":57.48,"a":0}
   ]},
   "layer": [
    {
     "mark": {"type": "line", "color": "#000000", "strokeWidth": 1.3},
     "encoding": {
      "x": {"field": "f", "type": "quantitative", "scale": {"domain": [7.68, 57.48], "range": [48.3, 370], "nice": false, "zero": false},
            "axis": {"orient": "bottom", "offset": -29.3, "values": [10, 20, 30, 40, 50], "domainWidth": 1.6, "title": "Frequenz", "titleX": 201, "titleY": 21.6}},
      "y": {"field": "a", "type": "quantitative", "scale": {"domain": [0, 5], "range": [536.7, 321.7], "nice": false, "zero": false},
            "axis": {"orient": "left", "offset": -48.3, "values": [1, 2, 3, 4], "domainWidth": 1.6, "title": null}}
     }
    },
    {
     "mark": {"type": "point", "opacity": 0},
     "encoding": {
      "x": {"field": "f", "type": "quantitative", "axis": {"orient": "top", "offset": -321.7, "values": [10, 20, 30, 40, 50], "title": null}},
      "y": {"field": "a", "type": "quantitative", "axis": {"orient": "right", "offset": -573, "values": [1, 2, 3, 4], "title": null}}
     }
    },
    {
     "data": {"values": [{}]},
     "mark": {"type": "text", "align": "left", "baseline": "alphabetic", "fontSize": 20, "color": "#000000"},
     "encoding": {
      "x": {"datum": 2.01, "type": "quantitative", "axis": null},
      "y": {"datum": 4.535, "type": "quantitative", "axis": null},
      "text": {"value": "b)"}
     }
    }
   ],
   "resolve": {"axis": {"x": "independent", "y": "independent"}}
  }
 ],
 "resolve": {"scale": {"x": "independent", "y": "independent", "color": "independent", "stroke": "independent"}}
}
